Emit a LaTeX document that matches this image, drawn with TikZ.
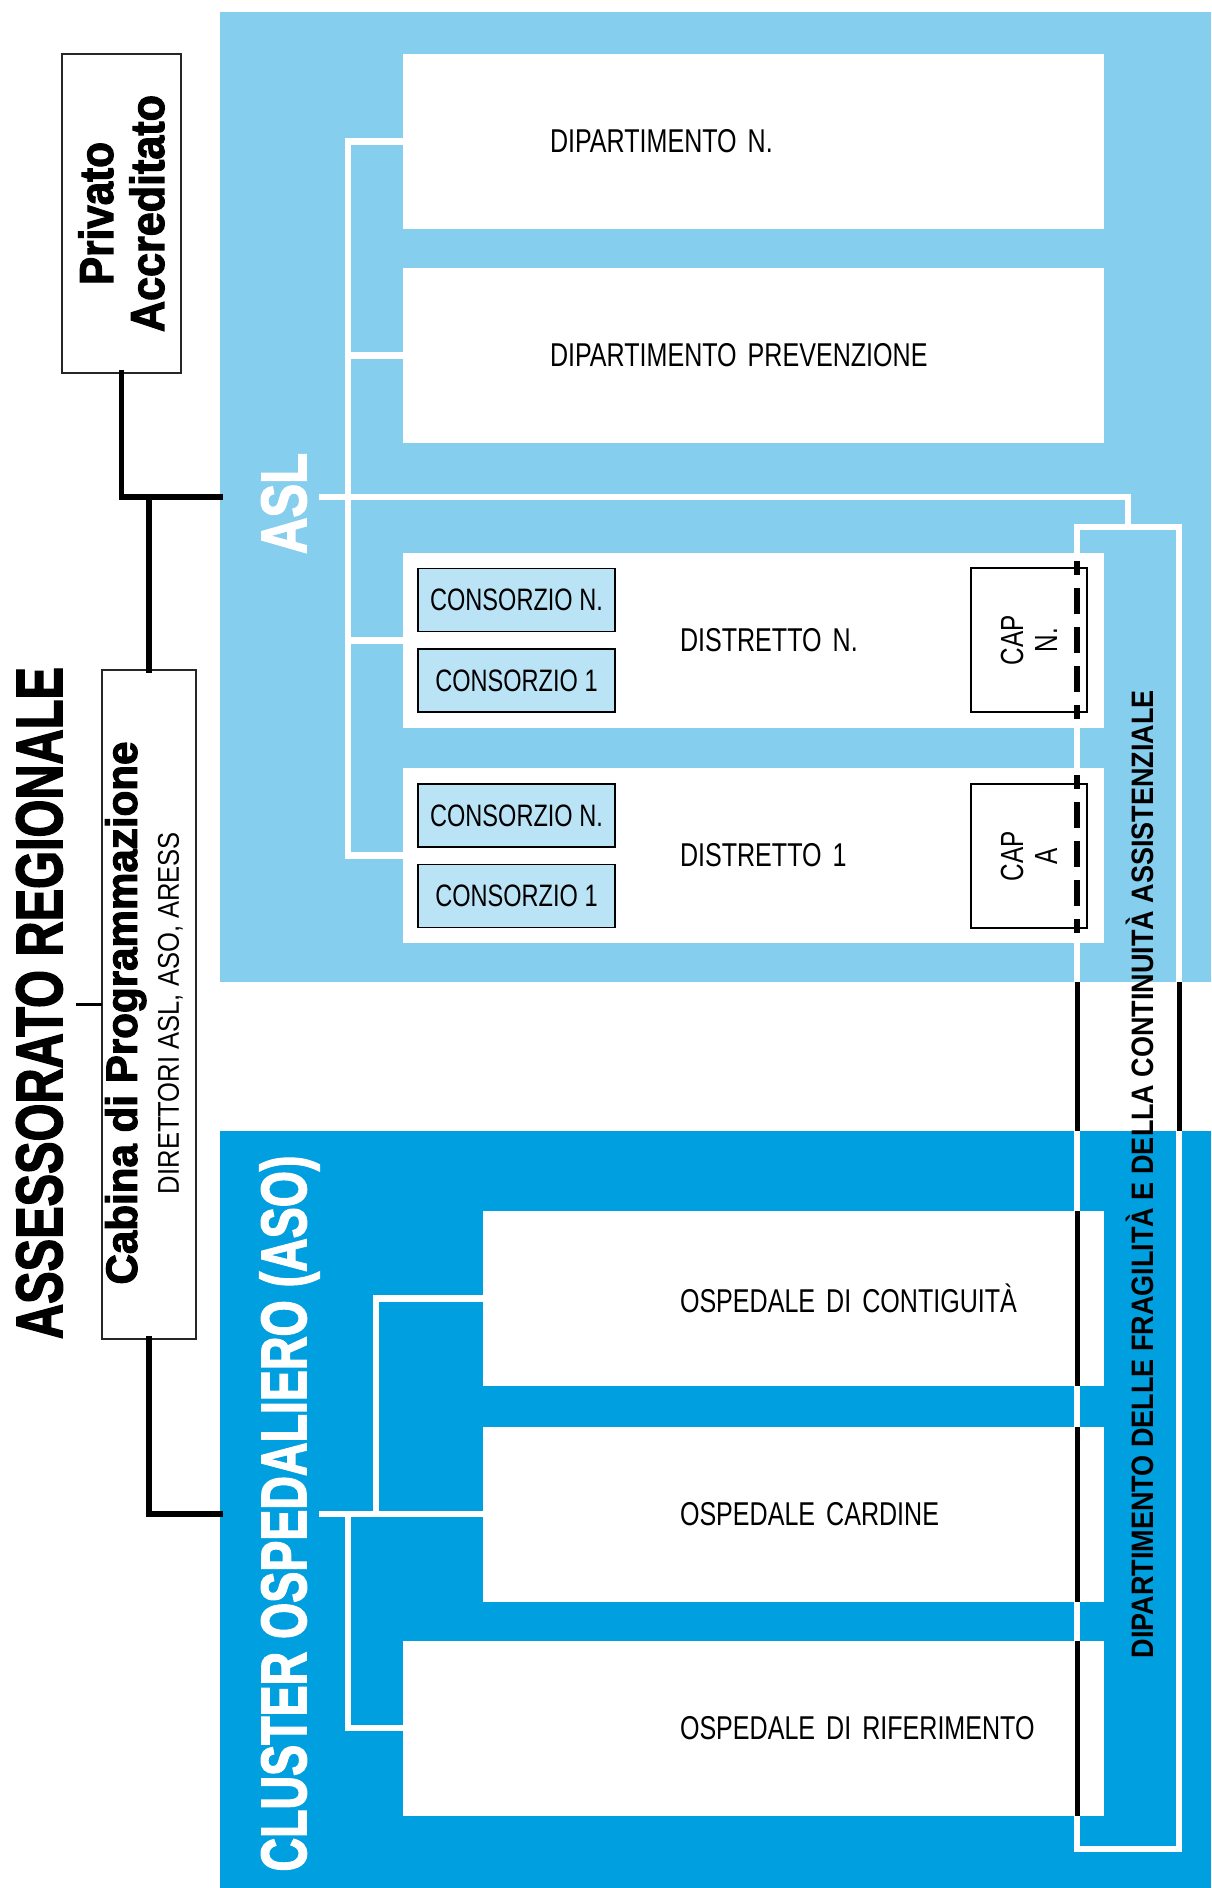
\documentclass[tikz,border=0pt]{standalone}
\usepackage{fontspec}
\usepackage{graphicx}
\setmainfont{Liberation Sans}
\newfontfamily\cnd[FakeStretch=0.76]{Liberation Sans}
\newfontfamily\hvy[BoldFeatures={FakeBold=2.5}]{Liberation Sans}
\usetikzlibrary{calc}
\definecolor{aslblue}{HTML}{86CEEE}
\definecolor{asoblue}{HTML}{009FDF}
\definecolor{conblue}{HTML}{BAE3F6}
\newcommand\fitw[2]{\resizebox{#1}{\height}{#2}}
\begin{document}
\begin{tikzpicture}[x=1pt,y=-1pt,
  panel/.style={draw=none, minimum width=991pt, inner sep=0pt, outer sep=0pt},
  wbox/.style={fill=white, draw=none, inner sep=0pt, outer sep=0pt, minimum height=175pt,
    text width=#1, align=left, font=\cnd\fontsize{33}{38}\selectfont},
  con/.style={fill=conblue, draw=black, line width=1.8pt, minimum width=197pt, minimum height=63pt,
    inner sep=0pt, outer sep=0pt, font=\cnd\fontsize{31}{34}\selectfont},
  capbox/.style={draw=black, line width=1.5pt, fill=white, rotate=90, minimum width=144pt,
    minimum height=116pt, inner sep=0pt, outer sep=0pt, align=center, font=\cnd\fontsize{32}{34}\selectfont},
  pbox/.style={draw=black!85, line width=2pt, fill=white, rotate=90, inner sep=0pt, outer sep=0pt, align=center},
  rlabel/.style={rotate=90, anchor=base, inner sep=0pt},
  wline/.style={draw=white, line width=6.5pt, line cap=rect},
  bline/.style={draw=black, line width=5.5pt, line cap=rect},
  bseg/.style={draw=black, line width=5pt},
  bdash/.style={draw=black, line width=5.5pt, dash pattern=on 14pt off 13pt on 26pt off 13pt on 26pt off 13pt on 26pt off 13pt on 14pt off 40pt},
  tickl/.style={draw=black, line width=2.5pt}
]
\useasboundingbox (0,0) rectangle (1211,1888);
\fill[white] (0,0) rectangle (1211,1888);

% panels
\node[panel, fill=aslblue, minimum height=970pt] (aslp) at (715.5,497) {};
\node[panel, fill=asoblue, minimum height=757pt] (asop) at (715.5,1509.5) {};

% white boxes
\node[wbox=701pt] (dipn) at (753.5,141.5) {\hspace*{147pt}DIPARTIMENTO N.};
\node[wbox=701pt] (dipp) at (753.5,355.5) {\hspace*{147pt}DIPARTIMENTO PREVENZIONE};
\node[wbox=701pt] (distn) at (753.5,640.5) {\hspace*{277pt}DISTRETTO N.};
\node[wbox=701pt] (dist1) at (753.5,855.5) {\hspace*{277pt}DISTRETTO 1};
\node[wbox=621pt] (ospc) at (793.5,1298.5) {\hspace*{197pt}OSPEDALE DI CONTIGUITÀ};
\node[wbox=621pt] (ospcard) at (793.5,1514) {\hspace*{197pt}OSPEDALE CARDINE};
\node[wbox=701pt] (ospr) at (753.5,1728) {\hspace*{277pt}OSPEDALE DI RIFERIMENTO};

% consorzi
\node[con] (cnN) at (516.5,600) {CONSORZIO N.};
\node[con] (cn1) at (516.5,680.5) {CONSORZIO 1};
\node[con] (cdN) at (516.5,815.5) {CONSORZIO N.};
\node[con] (cd1) at (516.5,896) {CONSORZIO 1};

% CAP boxes
\node[capbox] (capn) at (1029,640) {CAP\\N.};
\node[capbox] (capa) at (1029,856) {CAP\\A};

% DFCA frame
\node[draw=white, line width=6.5pt, minimum width=102pt, minimum height=1322pt,
  inner sep=0pt, outer sep=0pt] (dfca) at (1128,1188) {};

% ASL tree
\coordinate (aslroot) at (322,497);
\draw[wline] (dipn.west) -- ++(-55,0) |- (dist1.west);
\draw[wline] (dipp.west) -- ++(-55,0);
\draw[wline] (distn.west) -- ++(-55,0);
\draw[wline] (aslroot) -| (dfca.north);

% ASO tree
\coordinate (asoroot) at (322,1514);
\coordinate (asoj) at (348,1514);
\draw[wline] (asoroot) -- (ospcard.west);
\draw[wline] (ospc.west) -- ++(-107,0) |- (ospcard.west);
\draw[wline] (ospr.west) -| (asoj);

% black parts of DFCA frame
\draw[bdash] ($(dfca.west |- distn.north)+(0,8)$) -- ($(dfca.west |- distn.south)+(0,-8)$);
\draw[bdash] ($(dfca.west |- dist1.north)+(0,7)$) -- ($(dfca.west |- dist1.south)+(0,-9)$);
\draw[bseg] (dfca.west |- aslp.south) -- (dfca.west |- asop.north);
\draw[bseg] (dfca.east |- aslp.south) -- (dfca.east |- asop.north);
\draw[bseg] (dfca.west |- ospc.north) -- (dfca.west |- ospc.south);
\draw[bseg] (dfca.west |- ospcard.north) -- (dfca.west |- ospcard.south);
\draw[bseg] (dfca.west |- ospr.north) -- (dfca.west |- ospr.south);

% left boxes
\node[pbox, minimum width=319pt, minimum height=119pt,
  font=\hvy\bfseries\fontsize{47.5}{51}\selectfont] (priv) at (121.5,213.5)
  {\fitw{143pt}{Privato}\\\fitw{237pt}{Accreditato}};
\node[pbox, minimum width=669pt, minimum height=94pt, font=\fontsize{30}{42}\selectfont] (cab) at (149,1004.5)
  {\fitw{543pt}{\hvy\bfseries\fontsize{44}{44}\selectfont Cabina di Programmazione}\hspace*{17pt}\\
   \fitw{362pt}{DIRETTORI ASL, ASO, ARESS}\hspace*{17pt}\rule[-14pt]{0pt}{14pt}};

% black connectors
\coordinate (j1) at (149,497);
\draw[bline] (priv.west) |- (j1) -- (j1 -| aslp.west);
\draw[bline] (j1) -- (cab.east);
\draw[bline] (cab.west) |- (asop.west |- asoroot);
\draw[tickl] (cab.north) -- ++(-26,0);

% labels
\node[rlabel, font=\hvy\bfseries\fontsize{65.6}{70}\selectfont] (assr) at (62,1003)
  {\fitw{672pt}{ASSESSORATO REGIONALE}};
\node[rlabel, text=white, font=\hvy\bfseries\fontsize{64}{70}\selectfont] (asll) at (306,503.5)
  {\fitw{101pt}{ASL}};
\node[rlabel, text=white, font=\hvy\bfseries\fontsize{64}{70}\selectfont] (asol) at (306,1513.5)
  {\fitw{716pt}{CLUSTER OSPEDALIERO (ASO)}};
\node[rlabel, font=\bfseries\fontsize{31}{36}\selectfont] (dfcal) at (1153,1174)
  {\fitw{968pt}{DIPARTIMENTO DELLE FRAGILITÀ E DELLA CONTINUITÀ ASSISTENZIALE}};
\end{tikzpicture}
\end{document}
